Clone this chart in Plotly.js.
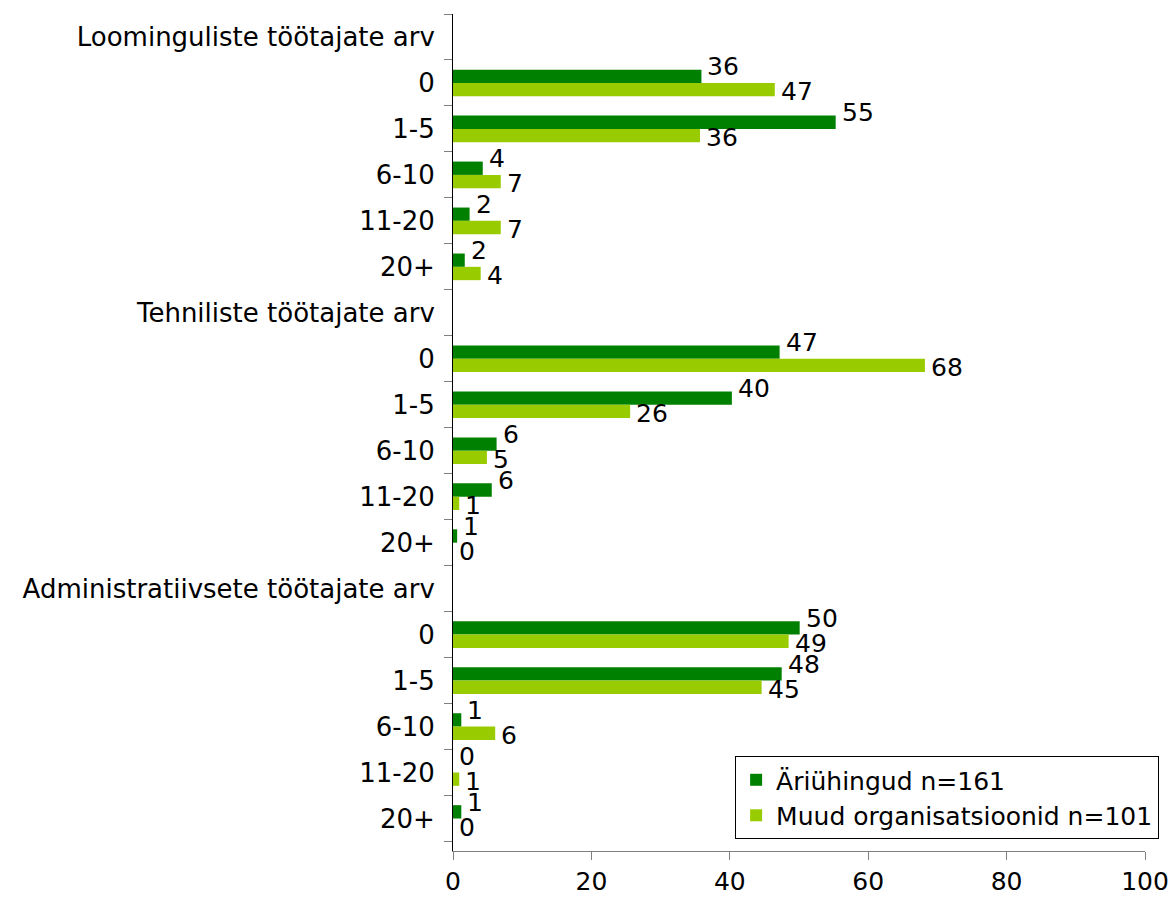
<!DOCTYPE html>
<html>
<head>
<meta charset="utf-8">
<script src="https://cdn.plot.ly/plotly-3.0.1.min.js"></script>
<style>html,body{margin:0;padding:0;background:#fff;}#chart{width:1171px;height:897px;}</style>
</head>
<body>
<div id="chart"></div>
<script>
// ---- data ----
const groupTitles = ["Loominguliste töötajate arv", "Tehniliste töötajate arv", "Administratiivsete töötajate arv"];
const sizeBands = ["0", "1-5", "6-10", "11-20", "20+"];
const seriesNames = ["Äriühingud n=161", "Muud organisatsioonid n=101"];

// Äriühingud (%)
const ariLoom = [35.9, 55.3, 4.3, 2.4, 1.7];
const ariTehn = [47.2, 40.3, 6.3, 5.6, 0.6];
const ariAdm  = [50.1, 47.5, 1.2, 0, 1.2];
// Muud organisatsioonid (%)
const muudLoom = [46.5, 35.7, 6.9, 6.9, 4.0];
const muudTehn = [68.2, 25.6, 4.9, 0.9, 0];
const muudAdm  = [48.5, 44.6, 6.1, 0.9, 0];

// ---- build rows ----
const ariGroups = [ariLoom, ariTehn, ariAdm];
const muudGroups = [muudLoom, muudTehn, muudAdm];
const keys = [], ticks = [], ariVals = [], muudVals = [];
groupTitles.forEach((g, gi) => {
  keys.push("h" + gi); ticks.push(g); ariVals.push(null); muudVals.push(null);
  sizeBands.forEach((b, bi) => {
    keys.push("r" + gi + "_" + bi); ticks.push(b);
    ariVals.push(ariGroups[gi][bi]); muudVals.push(muudGroups[gi][bi]);
  });
});

const FONT = "DejaVu Sans, Verdana, sans-serif";
const traces = [
  {type: "bar", orientation: "h", name: seriesNames[0], y: keys, x: ariVals,
   marker: {color: "#008000"}, hoverinfo: "skip"},
  {type: "bar", orientation: "h", name: seriesNames[1], y: keys, x: muudVals,
   marker: {color: "#99CC00"}, hoverinfo: "skip"}
];

const annotations = [];
[[ariVals, 16], [muudVals, -9]].forEach(([vals, ys]) => {
  vals.forEach((v, i) => {
    if (v === null) return;
    annotations.push({x: v, y: keys[i], xref: "x", yref: "y", text: String(Math.round(v)),
      showarrow: false, xanchor: "left", yanchor: "middle", xshift: 4, yshift: ys,
      font: {family: FONT, size: 25, color: "#000"}});
  });
});

const layout = {
  width: 1171, height: 897,
  margin: {l: 453, r: 24, t: 14, b: 46, pad: 0},
  paper_bgcolor: "#fff", plot_bgcolor: "#fff",
  font: {family: FONT, size: 25, color: "#000"},
  barmode: "group", bargap: 0.42, bargroupgap: 0,
  showlegend: true,
  legend: {x: 1.0204, xanchor: "right", y: 0.0143, yanchor: "bottom",
           bgcolor: "#fff", bordercolor: "#000", borderwidth: 1,
           font: {family: FONT, size: 25, color: "#000"}, traceorder: "normal"},
  xaxis: {range: [0, 100], dtick: 20, tick0: 0, showgrid: false, zeroline: false,
          showline: true, linecolor: "#808080", linewidth: 1,
          ticks: "outside", ticklen: 8, tickcolor: "#808080",
          tickfont: {family: FONT, size: 25, color: "#000"}, fixedrange: true},
  yaxis: {type: "category", autorange: "reversed", tickmode: "array", tickvals: keys, ticktext: ticks,
          tickson: "boundaries", ticks: "outside", ticklen: 8, tickcolor: "#808080",
          ticklabelstandoff: 12,
          showgrid: false, zeroline: false, showline: true, linecolor: "#000", linewidth: 1,
          tickfont: {family: FONT, size: 26, color: "#000"}, fixedrange: true},
  annotations: annotations
};

Plotly.newPlot("chart", traces, layout, {displayModeBar: false, staticPlot: true});
</script>
</body>
</html>
